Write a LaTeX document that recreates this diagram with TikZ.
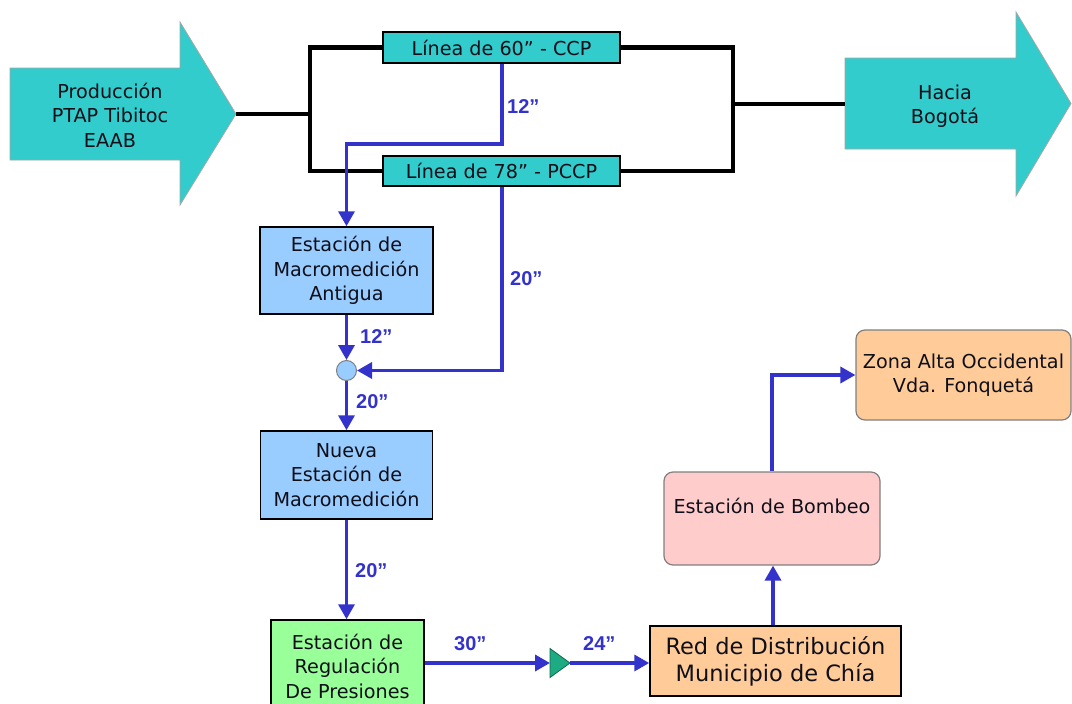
\documentclass[tikz,border=0pt]{standalone}
\usepackage{fontspec}
\setmainfont{DejaVu Sans}
\newfontfamily\lblfont{Liberation Sans}
\usetikzlibrary{arrows.meta}
\definecolor{tealfill}{RGB}{51,204,204}
\definecolor{bluebox}{RGB}{153,204,255}
\definecolor{greenbox}{RGB}{153,255,153}
\definecolor{orangebox}{RGB}{255,204,153}
\definecolor{pinkbox}{RGB}{255,204,204}
\definecolor{flow}{RGB}{51,51,204}
\definecolor{tri}{RGB}{30,170,130}
\definecolor{txt}{RGB}{15,15,25}
\tikzset{
  boxtext/.style={font=\fontsize{19.2}{24.5}\selectfont, text=txt, align=center},
  sqbox/.style={boxtext, draw=black, line width=1.5pt, inner sep=0pt},
  rbox/.style={boxtext, draw=gray, line width=1.2pt, rounded corners=9pt, inner sep=0pt},
  pipe/.style={line width=4.5pt, draw=black},
  flowline/.style={line width=3.5pt, draw=flow, -{Triangle[length=15pt,width=16pt]}},
  lbl/.style={font=\lblfont\bfseries\fontsize{20}{22}\selectfont, text=flow, anchor=west, inner sep=0pt},
  bigarrow/.style={fill=tealfill, draw=gray!70, line width=0.8pt}
}
\begin{document}
\begin{tikzpicture}[x=1pt,y=-1pt]
\useasboundingbox[fill=white] (0,0) rectangle (1072,704);

% big arrows
\draw[bigarrow] (10,68) -- (180,68) -- (180,22) -- (236,114) -- (180,205) -- (180,160) -- (10,160) -- cycle;
\coordinate (srctip) at (236,114);
\node[boxtext] (src) at (110,115) {Producción\\PTAP Tibitoc\\EAAB};
\draw[bigarrow] (845,58) -- (1016,58) -- (1016,12) -- (1071,103.5) -- (1016,196) -- (1016,149) -- (845,149) -- cycle;
\coordinate (dstin) at (845,104);
\node[boxtext] (dst) at (945,106) {Hacia\\Bogotá};

% pipelines
\coordinate (jl) at (310,114);
\coordinate (jr) at (733,104);
\node[sqbox, fill=tealfill, minimum width=237pt, minimum height=31pt] (l60) at (501.5,47.5) {Línea de 60” - CCP};
\node[sqbox, fill=tealfill, minimum width=237pt, minimum height=30pt] (l78) at (501.5,171) {Línea de 78” - PCCP};
\draw[pipe] (srctip) -- (jl);
\draw[pipe] (l60.west) -| (jl) |- (l78.west);
\draw[pipe] (l60.east) -| (jr) |- (l78.east);
\draw[pipe] (jr) -- (dstin);

% boxes
\node[sqbox, fill=bluebox, minimum width=173pt, minimum height=87pt] (ant) at (346.5,270.5) {Estación de\\Macromedición\\Antigua};
\node[circle, draw=gray, fill=bluebox, line width=1pt, minimum size=20pt, inner sep=0pt] (jn) at (346.5,370.5) {};
\node[sqbox, fill=bluebox, minimum width=172pt, minimum height=88pt] (nue) at (346.5,475) {Nueva\\Estación de\\Macromedición};
\node[sqbox, fill=greenbox, minimum width=153pt, minimum height=92pt] (reg) at (347.5,666) {Estación de\\Regulación\\De Presiones};
\node[sqbox, fill=orangebox, minimum width=251pt, minimum height=70pt, font=\fontsize{22.5}{27}\selectfont] (red) at (775.5,661) {Red de Distribución\\Municipio de Chía};
\node[rbox, fill=pinkbox, minimum width=216pt, minimum height=93pt] (bom) at (772,518.5) {Estación de Bombeo\\\mbox{}};
\node[rbox, fill=orangebox, minimum width=215pt, minimum height=90pt] (zona) at (963.5,375) {Zona Alta Occidental\\Vda. Fonquetá};

% valve triangle
\draw[fill=tri, draw=tri!60!black, line width=0.8pt] (550,648.5) -- (570,663) -- (550,677.5) -- cycle;
\coordinate (triw) at (550,663);
\coordinate (trie) at (570,663);

% flows
\draw[flowline] (l60.south -| 502,0) -- (502,144) -| (ant.north);
\draw[flowline] (l78.south -| 502,0) |- (jn.east);
\draw[flowline] (ant.south) -- (jn.north);
\draw[flowline] (jn.south) -- (nue.north);
\draw[flowline] (nue.south) -- (nue.south |- reg.north);
\draw[flowline] (reg.east |- triw) -- (triw);
\draw[flowline] (trie) -- (red.west |- trie);
\draw[flowline] (red.north -| 773,0) -- (bom.south -| 773,0);
\draw[flowline] (bom.north) |- (zona.west);

% labels
\node[lbl] (a) at (507,107) {12”};
\node[lbl] (b) at (510,279) {20”};
\node[lbl] (c) at (360,337) {12”};
\node[lbl] (d) at (356,402) {20”};
\node[lbl] (e) at (355,571) {20”};
\node[lbl] (f) at (454,644) {30”};
\node[lbl] (g) at (583,644) {24”};
\end{tikzpicture}
\end{document}
